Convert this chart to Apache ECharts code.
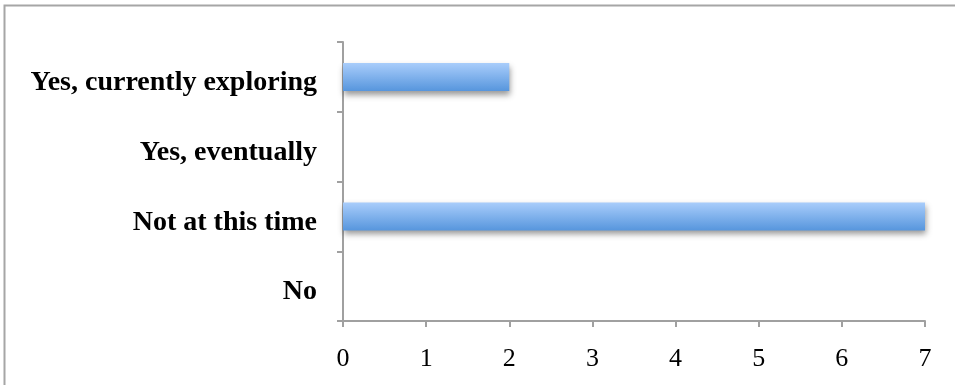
<!DOCTYPE html>
<html>
<head>
<meta charset="utf-8">
<script src="https://cdn.jsdelivr.net/npm/echarts@6/dist/echarts.min.js"></script>
<style>
  html, body { margin: 0; padding: 0; background: #fff; }
  #chart { width: 955px; height: 385px; }
</style>
</head>
<body>
<div id="chart"></div>
<script>
// Survey answers, listed bottom to top
const categories = ['No', 'Not at this time', 'Yes, eventually', 'Yes, currently exploring'];
const counts = [0, 7, 0, 2];
const xTicks = [0, 1, 2, 3, 4, 5, 6, 7];

const chart = echarts.init(document.getElementById('chart'), null, { renderer: 'canvas' });

const axisGrey = '#a0a0a0';

chart.setOption({
  animation: false,
  backgroundColor: '#fff',
  graphic: [{
    type: 'rect',
    shape: { x: 4.5, y: 5.5, width: 1200, height: 1200 },
    style: { fill: 'none', stroke: '#a6a6a6', lineWidth: 2 },
    silent: true
  }],
  grid: { left: 343, right: 30, top: 42, bottom: 64, containLabel: false },
  xAxis: {
    type: 'value',
    min: xTicks[0],
    max: xTicks[xTicks.length - 1],
    interval: 1,
    splitLine: { show: false },
    axisLine: { show: true, lineStyle: { color: axisGrey, width: 2 } },
    axisTick: { show: true, length: 6, lineStyle: { color: axisGrey, width: 2 } },
    axisLabel: {
      margin: 25,
      color: '#000',
      fontFamily: 'Liberation Serif',
      fontSize: 26
    }
  },
  yAxis: {
    type: 'category',
    data: categories,
    axisLine: { show: true, lineStyle: { color: axisGrey, width: 2 } },
    axisTick: { show: true, length: 6, lineStyle: { color: axisGrey, width: 2 } },
    axisLabel: {
      margin: 26,
      formatter: '{c|{value}}',
      rich: {
        c: {
          color: '#000',
          fontFamily: 'Liberation Serif',
          fontWeight: 'bold',
          fontSize: 28,
          padding: [12, 0, 0, 0]
        }
      }
    }
  },
  series: [{
    type: 'bar',
    data: counts,
    barWidth: 28,
    itemStyle: {
      color: new echarts.graphic.LinearGradient(0, 0, 0, 1, [
        { offset: 0, color: '#a9cdfb' },
        { offset: 1, color: '#5796dd' }
      ]),
      shadowColor: 'rgba(0,0,0,0.4)',
      shadowBlur: 6,
      shadowOffsetY: 4,
      shadowOffsetX: 1
    }
  }]
});
</script>
</body>
</html>
